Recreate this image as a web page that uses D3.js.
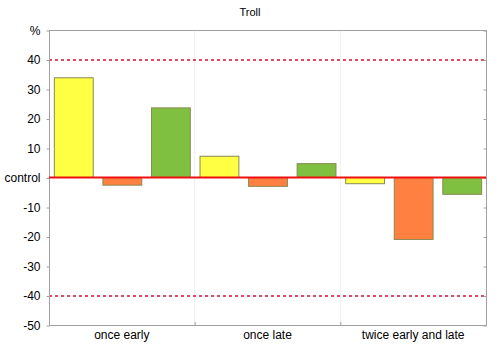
<!DOCTYPE html>
<html><head><meta charset="utf-8">
<script src="https://cdn.jsdelivr.net/npm/d3@7"></script>
<style>body{margin:0;background:#fff}svg{display:block;font-family:"Liberation Sans",Arial,sans-serif}</style>
</head><body><svg id="c" width="500" height="356"></svg>
<script>
const categories = ["once early", "once late", "twice early and late"];
const seriesNames = ["yellow", "orange", "green"];
const yellowValues = [33.8, 7.2, -2.1];
const orangeValues = [-2.6, -3.0, -21.0];
const greenValues = [23.6, 4.7, -5.7];
const seriesColors = ["#ffff44", "#ff8040", "#80c040"];
const yTicks = [50, 40, 30, 20, 10, 0, -10, -20, -30, -40, -50];
const yTickLabels = ["%", "40", "30", "20", "10", "control", "-10", "-20", "-30", "-40", "-50"];
const refLines = [40, -40];

const svg = d3.select("#c");
const m = {l: 49, r: 486, t: 30, b: 325};
const x = d3.scaleBand().domain(categories).range([m.l, m.r]).padding(0);
const xs = d3.scaleBand().domain(seriesNames).range([0, x.bandwidth()]).paddingInner(0.2).paddingOuter(0.1);
const y = d3.scaleLinear().domain([-50, 50]).range([m.b, m.t]);
const values = [yellowValues, orangeValues, greenValues];

svg.append("text").attr("x", 250).attr("y", 16).attr("text-anchor", "middle").attr("font-size", 11).text("Troll");

// category separators (faint gridlines)
svg.selectAll(".sep").data(categories.slice(1)).enter().append("line")
  .attr("x1", d => x(d)).attr("x2", d => x(d)).attr("y1", m.t).attr("y2", m.b)
  .attr("stroke", "#eeeeee").attr("stroke-width", 1);

// bars
seriesNames.forEach((s, i) => {
  svg.selectAll(".bar" + i).data(categories).enter().append("rect")
    .attr("x", d => x(d) + xs(s) + 0.5)
    .attr("width", xs.bandwidth())
    .attr("y", (d, j) => y(Math.max(0, values[i][j])))
    .attr("height", (d, j) => Math.abs(y(values[i][j]) - y(0)))
    .attr("fill", seriesColors[i])
    .attr("stroke", "#8a8a50").attr("stroke-width", 1);
});

// reference lines
svg.selectAll(".ref").data(refLines).enter().append("line")
  .attr("x1", m.l).attr("x2", m.r).attr("y1", d => y(d) + 0.5).attr("y2", d => y(d) + 0.5)
  .attr("stroke", "#d41030").attr("stroke-width", 1.5).attr("stroke-dasharray", "3,3");

// frame
svg.append("rect").attr("x", m.l + 0.5).attr("y", m.t + 0.5).attr("width", m.r - m.l).attr("height", m.b - m.t)
  .attr("fill", "none").attr("stroke", "#a0a0a0").attr("stroke-width", 1);

// left axis
const ya = svg.append("g").attr("transform", `translate(${m.l + 0.5},0.5)`)
  .call(d3.axisLeft(y).tickValues(yTicks).tickSize(3).tickFormat((d, i) => yTickLabels[i]));
ya.select(".domain").remove();
ya.selectAll("line").attr("stroke", "#a0a0a0");
ya.selectAll("text").attr("font-size", 12).attr("fill", "#000").attr("dx", "-3");

// right axis ticks
const yr = svg.append("g").attr("transform", `translate(${m.r + 0.5},0.5)`)
  .call(d3.axisRight(y).tickValues(yTicks).tickSize(-3).tickFormat(""));
yr.select(".domain").remove();
yr.selectAll("line").attr("stroke", "#a0a0a0");

// bottom axis
const xa = svg.append("g").attr("transform", `translate(0,${m.b + 0.5})`)
  .call(d3.axisBottom(x).tickSize(0));
xa.select(".domain").remove();
xa.selectAll("text").attr("font-size", 12).attr("fill", "#000").attr("dy", "0.9em");
svg.selectAll(".bt").data(categories.slice(1)).enter().append("line")
  .attr("x1", d => x(d) + 0.5).attr("x2", d => x(d) + 0.5).attr("y1", m.b).attr("y2", m.b - 3)
  .attr("stroke", "#a0a0a0");

// zero line
svg.append("line").attr("x1", m.l).attr("x2", m.r).attr("y1", y(0)).attr("y2", y(0))
  .attr("stroke", "#ee1010").attr("stroke-width", 2);
</script></body></html>
